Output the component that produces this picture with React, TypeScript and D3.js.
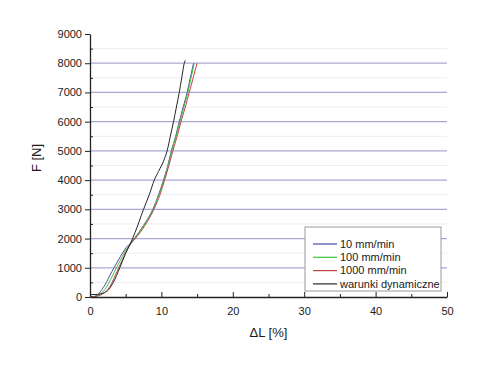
import React, { useEffect, useRef } from 'react';
import * as d3 from 'd3';

// series: [ΔL %, F N]
const speed10: Array<[number, number]> = [
  [0, 0], [0.5, 15], [1, 60], [1.5, 200], [2.3, 500], [2.8, 750], [3.37, 1000], [4.0, 1270],
  [4.54, 1500], [5.1, 1700], [5.7, 1850], [6.2, 2000], [7.5, 2450], [8.8, 3000], [9.6, 3500],
  [10.3, 4000], [10.9, 4500], [11.4, 5000], [12.0, 5500], [12.5, 6000], [13.05, 6500],
  [13.6, 7000], [14.05, 7500], [14.5, 8000],
];
const speed100: Array<[number, number]> = [
  [0, 0], [0.5, 10], [1, 40], [1.5, 120], [1.9, 200], [2.67, 500], [3.2, 750], [3.7, 1000],
  [4.25, 1250], [4.77, 1500], [5.3, 1700], [5.75, 1850], [6.25, 2000], [7.55, 2450],
  [8.85, 3000], [9.65, 3500], [10.35, 4000], [10.95, 4500], [11.45, 5000], [12.05, 5500],
  [12.6, 6000], [13.15, 6500], [13.7, 7000], [14.15, 7500], [14.6, 8000],
];
const speed1000: Array<[number, number]> = [
  [0, 0], [0.5, 10], [1, 30], [1.5, 70], [2.0, 140], [2.3, 200], [3.09, 500], [3.55, 750],
  [4.03, 1000], [4.5, 1250], [4.96, 1500], [5.4, 1700], [5.8, 1850], [6.35, 2000],
  [7.7, 2450], [8.95, 3000], [9.8, 3500], [10.45, 4000], [11.05, 4500], [11.6, 5000],
  [12.2, 5500], [12.75, 6000], [13.35, 6500], [13.9, 7000], [14.45, 7500], [15.0, 8000],
];
const dynamic: Array<[number, number]> = [
  [0, 80], [1, 90], [2, 150], [2.6, 250], [3.27, 500], [4.17, 1000], [5.0, 1500],
  [5.7, 1850], [6.3, 2200], [7.5, 3000], [8.3, 3500], [9.0, 4000], [9.6, 4300],
  [10.3, 4650], [10.8, 5000], [11.25, 5500], [11.7, 6000], [12.1, 6500], [12.5, 7000],
  [12.85, 7500], [13.2, 8000], [13.35, 8100],
];

const seriesNames = ['10 mm/min', '100 mm/min', '1000 mm/min', 'warunki dynamiczne'];
const seriesColors = ['#4b4ba8', '#3cc43c', '#c04444', '#262626'];
const xTicks = [0, 10, 20, 30, 40, 50];
const xMinorTicks = [5, 15, 25, 35, 45];
const yTicks = [0, 1000, 2000, 3000, 4000, 5000, 6000, 7000, 8000, 9000];
const yMinorTicks = [500, 1500, 2500, 3500, 4500, 5500, 6500, 7500, 8500];

const FONT = 'Arial, "Liberation Sans", sans-serif';

const App: React.FC = () => {
  const ref = useRef<SVGSVGElement | null>(null);

  useEffect(() => {
    const width = 480;
    const height = 367;
    const left = 90, right = 447, top = 34, bottom = 297;

    const svg = d3.select(ref.current);
    svg.selectAll('*').remove();

    const x = d3.scaleLinear().domain([0, 50]).range([left, right]);
    const y = d3.scaleLinear().domain([0, 9000]).range([bottom, top]);

    // faint minor grid
    svg.append('g')
      .selectAll('line')
      .data(yMinorTicks)
      .enter()
      .append('line')
      .attr('x1', left).attr('x2', right)
      .attr('y1', d => y(d)).attr('y2', d => y(d))
      .attr('stroke', '#ececf4')
      .attr('stroke-width', 1);

    // major grid
    svg.append('g')
      .selectAll('line')
      .data(yTicks.filter(d => d > 0 && d < 9000))
      .enter()
      .append('line')
      .attr('x1', left).attr('x2', right)
      .attr('y1', d => y(d)).attr('y2', d => y(d))
      .attr('stroke', '#a9a9d6')
      .attr('stroke-width', 1.2);

    // curves
    const line = d3.line<[number, number]>()
      .x(d => x(d[0]))
      .y(d => y(d[1]))
      .curve(d3.curveMonotoneX);
    const allSeries = [speed10, speed100, speed1000, dynamic];
    allSeries.forEach((s, i) => {
      svg.append('path')
        .datum(s)
        .attr('fill', 'none')
        .attr('stroke', seriesColors[i])
        .attr('stroke-width', 1)
        .attr('d', line);
    });

    // X axis
    const xAxis = svg.append('g')
      .attr('transform', `translate(0,${bottom})`)
      .call(d3.axisBottom(x).tickValues(xTicks).tickFormat(d3.format('d')).tickSizeInner(-5).tickSizeOuter(0).tickPadding(10));
    svg.append('g')
      .attr('transform', `translate(0,${bottom})`)
      .call(d3.axisBottom(x).tickValues(xMinorTicks).tickSizeInner(-3).tickSizeOuter(0).tickFormat(() => ''))
      .select('.domain').remove();

    // Y axis
    const yAxis = svg.append('g')
      .attr('transform', `translate(${left},0)`)
      .call(d3.axisLeft(y).tickValues(yTicks).tickFormat(d3.format('d')).tickSizeInner(5).tickSizeOuter(0).tickPadding(3));
    svg.append('g')
      .attr('transform', `translate(${left},0)`)
      .call(d3.axisLeft(y).tickValues(yMinorTicks).tickSizeInner(-3).tickSizeOuter(0).tickFormat(() => ''))
      .select('.domain').remove();

    [xAxis, yAxis].forEach(g => {
      g.selectAll('text')
        .attr('font-family', FONT)
        .attr('font-size', 11)
        .attr('fill', '#1a1a1a');
    });
    svg.selectAll('.domain').attr('stroke', '#222').attr('stroke-width', 1.3);
    svg.selectAll('.tick line').attr('stroke', '#222');

    // axis titles
    svg.append('text')
      .attr('x', (left + right) / 2)
      .attr('y', 337)
      .attr('text-anchor', 'middle')
      .attr('font-family', FONT)
      .attr('font-size', 13)
      .attr('fill', '#1a1a1a')
      .text('\u0394L [%]');
    svg.append('text')
      .attr('transform', 'translate(41,158) rotate(-90)')
      .attr('text-anchor', 'middle')
      .attr('font-family', FONT)
      .attr('font-size', 13)
      .attr('fill', '#1a1a1a')
      .text('F [N]');

    // legend
    const lg = svg.append('g').attr('transform', 'translate(305,227)');
    lg.append('rect')
      .attr('width', 136).attr('height', 64)
      .attr('fill', '#fff')
      .attr('stroke', '#9a9a9a')
      .attr('stroke-width', 1);
    seriesNames.forEach((name, i) => {
      const cy = 17 + i * 13.3;
      lg.append('line')
        .attr('x1', 8).attr('x2', 32)
        .attr('y1', cy).attr('y2', cy)
        .attr('stroke', seriesColors[i])
        .attr('stroke-width', 1.2);
      lg.append('text')
        .attr('x', 35)
        .attr('y', cy)
        .attr('dy', '0.35em')
        .attr('font-family', FONT)
        .attr('font-size', 11)
        .attr('fill', '#1a1a1a')
        .text(name);
    });

    svg.attr('width', width).attr('height', height);
  }, []);

  return (
    <svg
      ref={ref}
      width={480}
      height={367}
      style={{ position: 'absolute', left: 0, top: 0, background: '#fff' }}
    />
  );
};

export default App;
